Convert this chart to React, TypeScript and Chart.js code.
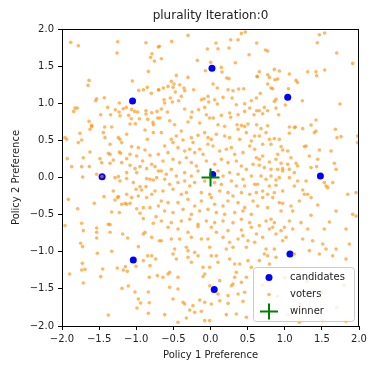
import React, { useEffect, useRef } from "react";
import { Chart, registerables } from "chart.js";

Chart.register(...registerables);

const titleText = "plurality Iteration:0";
const xLabel = "Policy 1 Preference";
const yLabel = "Policy 2 Preference";
const axisMin = -2;
const axisMax = 2;
const tickStep = 0.5;
const legendLabels = ["candidates", "voters", "winner"];

const candidateX = [0.02, -1.05, 1.04, -1.46, 1.48, -1.04, 1.07, 0.05, 0.03];
const candidateY = [1.47, 1.03, 1.08, 0.01, 0.02, -1.11, -1.03, -1.51, 0.04];

const winnerX = [0.0];
const winnerY = [0.0];

const voters: [number, number][] = [
  [-1.883, 1.82], [-1.78, 1.775], [-1.25, 1.829], [-1.259, 1.676], [-0.869, 1.815], [-0.702, 1.757],
  [-0.788, 1.667], [-0.806, 1.618], [-0.756, 1.568], [-0.837, 1.429], [-1.636, 1.308], [-1.65, 1.241],
  [-1.053, 1.299], [-1.533, 1.061], [-1.547, 1.034], [-1.43, 1.075], [-1.228, 1.003], [-0.904, 1.182],
  [-0.851, 1.214], [-0.797, 1.133], [-0.698, 1.178], [-0.967, 1.173], [-1.825, 0.935], [-1.843, 0.89],
  [-1.794, 0.935], [-1.385, 0.944], [-1.282, 0.913], [-1.232, 0.882], [-1.174, 0.926], [-1.134, 0.944],
  [-1.062, 0.917], [-1.021, 0.89], [-0.981, 0.882], [-0.869, 0.899], [-0.869, 0.855], [-0.792, 0.873],
  [-0.72, 0.89], [-1.479, 0.846], [-1.345, 0.846], [-1.219, 0.832], [-1.102, 0.837], [-1.066, 0.792],
  [-0.958, 0.792], [-0.846, 0.783], [-0.774, 0.742], [-0.711, 0.801], [-1.636, 0.756], [-1.6, 0.702],
  [-1.425, 0.68], [-1.331, 0.68], [-1.084, 0.72], [-1.012, 0.724], [-0.77, 0.711],
  [-0.303, 1.914], [-0.523, 1.833], [-0.689, 1.766], [-0.662, 1.6], [0.074, 1.811], [-0.042, 1.73],
  [0.101, 1.735], [0.249, 1.744], [0.272, 1.856], [0.371, 1.856], [0.416, 1.941], [0.469, 1.959],
  [0.519, 1.654], [0.622, 1.811], [-0.177, 1.577], [0.002, 1.551], [0.146, 1.483], [0.155, 1.42],
  [-0.069, 1.438], [0.335, 1.546], [0.631, 1.357], [-0.46, 1.375], [-0.303, 1.348], [0.218, 1.34],
  [0.249, 1.331], [-0.527, 1.295], [-0.491, 1.259], [-0.572, 1.227], [-0.505, 1.214], [-0.415, 1.25],
  [-0.357, 1.205], [-0.348, 1.169], [-0.227, 1.182], [0.034, 1.259], [0.092, 1.205], [0.236, 1.182],
  [0.303, 1.169], [0.38, 1.191], [0.447, 1.196], [-0.698, 1.182], [-0.635, 1.205], [-0.474, 1.151],
  [-0.393, 1.093], [-0.541, 1.07], [-0.626, 1.048], [-0.617, 1.003], [-0.662, 0.922], [-0.581, 0.882],
  [-0.514, 1.016], [-0.429, 1.034], [-0.123, 1.048], [-0.087, 1.061], [-0.033, 1.093], [-0.024, 1.016],
  [0.056, 1.048], [0.092, 0.989], [0.169, 1.079], [0.29, 1.07], [0.348, 0.98], [0.46, 0.994],
  [0.55, 1.034], [0.618, 1.07], [0.622, 0.9], [-0.348, 0.922], [-0.249, 0.882], [-0.262, 0.81],
  [-0.159, 0.913], [-0.078, 0.944], [-0.056, 0.846], [-0.011, 0.801], [0.038, 0.801], [0.146, 0.837],
  [0.272, 0.81], [0.258, 0.868], [0.371, 0.846], [0.46, 0.89], [0.528, 0.935], [0.586, 0.846],
  [-0.68, 0.801], [-0.55, 0.765], [-0.483, 0.711], [-0.303, 0.747], [-0.146, 0.733], [0.101, 0.711],
  [0.191, 0.689], [0.357, 0.711], [0.416, 0.702], [0.46, 0.689], [0.505, 0.72],
  [1.466, 1.923], [1.538, 1.946], [1.439, 1.815], [0.739, 1.717], [0.77, 1.703], [1.7, 1.676],
  [1.915, 1.537], [0.86, 1.456], [0.927, 1.434], [0.658, 1.425], [0.626, 1.362], [0.77, 1.384],
  [0.793, 1.348], [1.062, 1.393], [1.309, 1.425], [1.421, 1.425], [1.43, 1.371], [1.538, 1.447],
  [0.869, 1.317], [0.905, 1.326], [1.152, 1.308], [1.17, 1.281], [0.77, 1.259], [0.815, 1.205],
  [0.838, 1.196], [0.671, 1.133], [1.049, 1.196], [0.882, 1.052], [0.86, 1.025], [1.237, 1.034],
  [1.008, 0.976], [1.744, 0.989], [0.725, 0.944], [0.658, 0.899], [0.77, 0.899], [0.882, 0.935],
  [0.703, 0.859], [0.918, 0.846], [1.421, 0.774], [0.77, 0.697], [1.062, 0.68], [1.143, 0.68],
  [1.354, 0.706], [0.622, 0.711],
  [-1.96, 0.537], [-1.937, 0.514], [-1.758, 0.595], [-1.623, 0.649], [-1.6, 0.685], [-1.443, 0.604],
  [-1.421, 0.537], [-1.241, 0.537], [-1.219, 0.514], [-1.129, 0.582], [-0.882, 0.64], [-0.851, 0.514],
  [-0.77, 0.604], [-1.735, 0.505], [-1.78, 0.47], [-1.353, 0.447], [-1.196, 0.47], [-1.062, 0.416],
  [-0.972, 0.402], [-0.882, 0.371], [-1.623, 0.344], [-1.376, 0.326], [-1.353, 0.312], [-1.228, 0.344],
  [-1.21, 0.326], [-1.084, 0.312], [-0.994, 0.29], [-0.815, 0.299], [-0.702, 0.312], [-1.928, 0.254],
  [-1.713, 0.267], [-1.488, 0.254], [-1.309, 0.236], [-1.129, 0.254], [-0.914, 0.223], [-0.792, 0.178],
  [-1.87, 0.146], [-1.735, 0.146], [-1.632, 0.146], [-1.466, 0.2], [-1.353, 0.191], [-1.196, 0.2],
  [-1.084, 0.164], [-1.017, 0.119], [-0.949, 0.146], [-0.86, 0.119], [-0.747, 0.146], [-0.702, 0.088],
  [-1.129, 0.065], [-0.994, 0.065], [-1.533, 0.043], [-1.722, 0.007], [-1.286, -0.002], [-1.241, 0.012],
  [-1.219, -0.047], [-1.129, -0.015], [-1.039, -0.069], [-0.86, -0.015], [-0.815, -0.024], [-0.77, -0.033],
  [-0.725, -0.002], [-0.949, -0.123], [-0.869, -0.123], [-1.003, -0.159], [-0.927, -0.168], [-1.309, -0.182],
  [-1.241, -0.258], [-1.25, -0.271], [-1.129, -0.226], [-1.062, -0.271], [-0.972, -0.249], [-0.86, -0.271],
  [-0.792, -0.226], [-0.747, -0.182], [-1.434, -0.258], [-1.915, -0.294], [-1.565, -0.348], [-1.286, -0.303],
  [-1.196, -0.361], [-1.151, -0.348], [-1.129, -0.361], [-1.084, -0.348], [-0.994, -0.42], [-0.905, -0.406],
  [-0.815, -0.406], [-0.702, -0.384], [-1.789, -0.42], [-1.331, -0.464], [-1.228, -0.473], [-0.949, -0.482],
  [-0.734, -0.527], [-1.735, -0.617], [-1.376, -0.631], [-0.77, -0.617], [-0.905, -0.554], [-1.462, 0.014],
  [-0.662, 0.604], [-0.527, 0.514], [-0.505, 0.47], [-0.46, 0.559], [-0.393, 0.627], [-0.37, 0.505],
  [-0.258, 0.537], [-0.236, 0.47], [-0.168, 0.568], [-0.078, 0.604], [-0.034, 0.537], [0.011, 0.514],
  [0.034, 0.425], [0.079, 0.582], [0.191, 0.559], [0.258, 0.537], [0.371, 0.649], [0.393, 0.514],
  [0.483, 0.604], [0.55, 0.492], [0.595, 0.559], [-0.617, 0.425], [-0.572, 0.335], [-0.438, 0.402],
  [-0.348, 0.357], [-0.28, 0.38], [-0.213, 0.335], [-0.146, 0.38], [-0.101, 0.312], [-0.034, 0.447],
  [0.124, 0.357], [0.213, 0.38], [0.281, 0.402], [0.326, 0.312], [0.438, 0.335], [0.528, 0.425],
  [0.595, 0.38], [-0.64, 0.223], [-0.505, 0.245], [-0.415, 0.2], [-0.325, 0.267], [-0.258, 0.2],
  [-0.191, 0.155], [-0.056, 0.223], [0.056, 0.178], [0.146, 0.245], [0.236, 0.2], [0.348, 0.223],
  [0.416, 0.155], [0.483, 0.11], [0.573, 0.178], [0.618, 0.267], [-0.662, 0.088], [-0.595, 0.043],
  [-0.527, 0.11], [-0.46, 0.02], [-0.348, 0.065], [-0.258, 0.02], [-0.168, 0.088], [0.101, 0.088],
  [0.169, 0.02], [0.258, 0.065], [0.371, 0.043], [0.438, -0.024], [0.55, 0.02], [-0.617, -0.024],
  [-0.55, -0.092], [-0.438, -0.069], [-0.348, -0.047], [-0.28, -0.114], [-0.213, -0.069], [-0.078, -0.047],
  [0.056, -0.069], [0.146, -0.092], [0.281, -0.047], [0.348, -0.114], [0.46, -0.114], [0.595, -0.092],
  [-0.64, -0.182], [-0.505, -0.159], [-0.393, -0.226], [-0.325, -0.204], [-0.123, -0.204], [-0.011, -0.226],
  [0.011, -0.271], [0.124, -0.182], [0.236, -0.204], [0.303, -0.249], [0.416, -0.204], [0.528, -0.226],
  [0.618, -0.204], [-0.662, -0.316], [-0.572, -0.339], [-0.438, -0.339], [-0.303, -0.294], [-0.213, -0.384],
  [-0.123, -0.316], [0.056, -0.361], [0.169, -0.384], [0.236, -0.316], [0.371, -0.339], [0.46, -0.406],
  [0.573, -0.316], [-0.617, -0.451], [-0.505, -0.473], [-0.37, -0.429], [-0.258, -0.496], [-0.146, -0.451],
  [-0.034, -0.429], [0.079, -0.473], [0.191, -0.496], [0.326, -0.473], [0.438, -0.451], [0.55, -0.496],
  [-0.662, -0.586], [-0.527, -0.608], [-0.393, -0.586], [-0.28, -0.563], [-0.168, -0.631], [-0.056, -0.586],
  [0.056, -0.608], [0.169, -0.586], [0.303, -0.608], [0.416, -0.563], [0.528, -0.608],
  [0.68, 0.658], [0.748, 0.604], [0.658, 0.559], [0.793, 0.514], [0.86, 0.523], [0.927, 0.514],
  [1.062, 0.595], [1.129, 0.672], [1.242, 0.658], [1.399, 0.604], [1.421, 0.627], [1.682, 0.649],
  [1.704, 0.537], [1.758, 0.55], [1.982, 0.559], [1.982, 0.47], [0.703, 0.447], [0.815, 0.447],
  [0.95, 0.416], [0.972, 0.371], [0.905, 0.312], [1.04, 0.357], [1.084, 0.267], [1.264, 0.416],
  [1.287, 0.425], [1.466, 0.371], [1.623, 0.357], [0.703, 0.29], [0.658, 0.245], [0.793, 0.209],
  [0.882, 0.245], [0.95, 0.191], [0.972, 0.119], [1.04, 0.178], [1.152, 0.191], [1.331, 0.29],
  [1.444, 0.245], [0.658, 0.164], [0.725, 0.133], [0.815, 0.11], [0.905, 0.11], [0.972, 0.088],
  [1.062, 0.11], [1.129, 0.065], [1.174, 0.155], [1.354, 0.133], [1.43, 0.146], [1.691, 0.11],
  [1.668, 0.191], [0.68, 0.02], [0.748, -0.024], [0.815, 0.02], [0.882, -0.033], [0.927, -0.002],
  [1.062, -0.002], [1.174, -0.047], [1.287, -0.047], [1.533, -0.069], [1.556, -0.114], [1.578, -0.137],
  [1.646, -0.069], [0.635, -0.092], [0.793, -0.114], [0.882, -0.105], [0.703, -0.182], [0.77, -0.226],
  [0.86, -0.204], [0.972, -0.182], [1.129, -0.114], [1.242, -0.168], [1.264, -0.226], [1.309, -0.226],
  [1.354, -0.271], [1.848, -0.226], [1.96, -0.204], [0.703, -0.271], [0.838, -0.271], [0.927, -0.339],
  [0.972, -0.348], [1.084, -0.384], [1.197, -0.316], [1.444, -0.37], [0.635, -0.384], [0.77, -0.406],
  [0.95, -0.451], [1.107, -0.451], [1.354, -0.509], [1.691, -0.451], [1.915, -0.496], [1.96, -0.518],
  [0.748, -0.586], [0.815, -0.563], [0.86, -0.608], [1.062, -0.586], [1.219, -0.608], [1.601, -0.599],
  [-1.96, -0.648], [-1.713, -0.716], [-1.533, -0.68], [-1.533, -0.738], [-1.533, -0.815], [-1.353, -0.738],
  [-1.353, -0.635], [-1.183, -0.761], [-1.116, -0.815], [-0.905, -0.761], [-0.882, -0.738], [-0.792, -0.806],
  [-0.689, -0.851], [-1.749, -0.886], [-1.722, -0.931], [-0.972, -0.931], [-1.331, -0.994], [-1.524, -1.021],
  [-0.792, -1.053], [-0.738, -1.097], [-0.846, -1.053], [-0.905, -1.12], [-1.003, -1.196], [-1.147, -1.201],
  [-1.255, -1.219], [-1.174, -1.246], [-1.12, -1.264], [-0.815, -1.187], [-1.726, -1.156], [-1.69, -1.237],
  [-1.735, -1.246], [-1.452, -1.232], [-1.897, -1.3], [-1.479, -1.335], [-0.824, -1.344], [-0.716, -1.322],
  [-1.713, -1.421], [-1.107, -1.461], [-1.192, -1.493], [-1.017, -1.542], [-0.837, -1.542], [-0.972, -1.636],
  [-0.94, -1.69], [-0.824, -1.686], [-0.99, -1.757], [-0.837, -1.829], [-1.376, -1.852],
  [-0.572, -0.671], [-0.438, -0.693], [-0.303, -0.738], [-0.168, -0.662], [0.011, -0.671], [0.079, -0.738],
  [0.236, -0.716], [0.416, -0.707], [0.438, -0.783], [0.55, -0.671], [0.618, -0.761], [-0.662, -0.851],
  [-0.527, -0.828], [-0.415, -0.828], [-0.258, -0.806], [-0.123, -0.828], [-0.034, -0.828], [0.169, -0.806],
  [0.258, -0.873], [0.371, -0.828], [0.505, -0.851], [0.595, -0.873], [-0.483, -0.963], [-0.325, -0.94],
  [-0.303, -0.985], [-0.213, -1.008], [-0.011, -0.94], [0.213, -0.963], [0.303, -0.94], [0.483, -0.94],
  [-0.505, -1.03], [-0.46, -1.097], [-0.303, -1.075], [-0.258, -1.142], [-0.168, -1.053], [0.011, -1.053],
  [0.079, -1.053], [0.101, -1.142], [0.258, -1.097], [0.326, -1.165], [0.393, -1.165], [0.505, -1.12],
  [0.55, -1.21], [-0.101, -1.21], [-0.011, -1.21], [-0.078, -1.3], [-0.101, -1.335], [-0.55, -1.277],
  [-0.572, -1.3], [-0.64, -1.344], [-0.438, -1.344], [0.348, -1.277], [0.483, -1.344], [0.326, -1.344],
  [0.416, -1.412], [0.124, -1.389], [-0.011, -1.457], [0.281, -1.457], [0.303, -1.434], [0.101, -1.569],
  [0.236, -1.591], [0.371, -1.569], [0.46, -1.546], [-0.55, -1.479], [-0.438, -1.502], [-0.505, -1.636],
  [-0.37, -1.681], [-0.348, -1.704], [-0.236, -1.726], [-0.146, -1.65], [-0.078, -1.681], [0.011, -1.704],
  [0.124, -1.659], [0.236, -1.695], [0.438, -1.668], [-0.213, -1.816], [-0.28, -1.784], [-0.123, -1.802],
  [-0.617, -1.847], [0.213, -1.847], [0.348, -1.838], [0.483, -1.883], [-0.325, -1.892], [-0.078, -1.928],
  [-0.011, -1.928], [-0.438, -1.95],
  [0.658, -0.648], [0.793, -0.693], [0.838, -0.671], [0.95, -0.716], [0.995, -0.671], [1.107, -0.693],
  [1.309, -0.693], [1.533, -0.693], [1.825, -0.693], [0.703, -0.806], [0.882, -0.761], [1.017, -0.806],
  [0.972, -0.851], [1.242, -0.828], [1.376, -0.851], [1.511, -0.895], [1.556, -0.963], [1.691, -0.963],
  [1.87, -0.895], [0.748, -0.963], [0.86, -0.963], [0.725, -1.03], [0.882, -1.075], [1.129, -1.03],
  [1.331, -0.985], [1.466, -1.03], [1.646, -1.053], [1.825, -1.097], [0.658, -1.12], [0.793, -1.165],
  [0.77, -1.053], [1.197, -1.95], [1.511, -1.928], [1.825, -1.937],
  [1.0, -1.35], [1.3, -1.4], [1.6, -1.3], [0.9, -1.6], [1.2, -1.7], [1.5, -1.55], [1.8, -1.45],
  [0.7, -1.45], [1.05, -1.85], [1.7, -1.75],
];

const fontFamily = '"DejaVu Sans", sans-serif';
const textColor = "#222222";
const voterColor = "rgba(255,140,0,0.62)";
const candidateColor = "#0000ff";
const winnerColor = "#008000";

function fmt(v: number): string {
  const s = Math.abs(v).toFixed(1);
  return v < 0 ? "\u2212" + s : s;
}

const decorPlugin = {
  id: "decor",
  afterDatasetsDraw(chart: any) {
    const { ctx, chartArea: a } = chart;
    ctx.save();
    const w = 101;
    const h = 54;
    const x0 = a.right - 5 - w;
    const y0 = a.bottom - 5 - h;
    ctx.beginPath();
    if ((ctx as any).roundRect) {
      (ctx as any).roundRect(x0 + 0.5, y0 + 0.5, w, h, 3);
    } else {
      ctx.rect(x0 + 0.5, y0 + 0.5, w, h);
    }
    ctx.fillStyle = "rgba(255,255,255,0.8)";
    ctx.fill();
    ctx.strokeStyle = "#cccccc";
    ctx.lineWidth = 1;
    ctx.stroke();
    const mx = x0 + 16;
    const rows = [y0 + 10.5, y0 + 27.5, y0 + 44.5];
    ctx.beginPath();
    ctx.arc(mx, rows[0], 3.5, 0, Math.PI * 2);
    ctx.fillStyle = candidateColor;
    ctx.fill();
    ctx.beginPath();
    ctx.arc(mx, rows[1], 1.8, 0, Math.PI * 2);
    ctx.fillStyle = voterColor;
    ctx.fill();
    ctx.beginPath();
    ctx.moveTo(mx - 9, rows[2]);
    ctx.lineTo(mx + 9, rows[2]);
    ctx.moveTo(mx, rows[2] - 8);
    ctx.lineTo(mx, rows[2] + 8);
    ctx.strokeStyle = winnerColor;
    ctx.lineWidth = 2;
    ctx.stroke();
    ctx.fillStyle = textColor;
    ctx.font = `10px ${fontFamily}`;
    ctx.textBaseline = "middle";
    ctx.textAlign = "left";
    legendLabels.forEach((t, i) => ctx.fillText(t, x0 + 37, rows[i]));
    ctx.restore();
  },
  afterDraw(chart: any) {
    const { ctx, chartArea: a } = chart;
    ctx.save();
    ctx.strokeStyle = "#000000";
    ctx.lineWidth = 1;
    ctx.strokeRect(Math.round(a.left) + 0.5, Math.round(a.top) + 0.5, Math.round(a.right - a.left) - 1, Math.round(a.bottom - a.top));
    ctx.fillStyle = textColor;
    ctx.font = `12px ${fontFamily}`;
    ctx.textAlign = "center";
    ctx.textBaseline = "middle";
    ctx.fillText(titleText, (a.left + a.right) / 2, 16);
    ctx.restore();
  },
};

export default function App() {
  const ref = useRef<HTMLCanvasElement | null>(null);
  useEffect(() => {
    document.body.style.margin = "0";
    if (!ref.current) return;
    const chart = new Chart(ref.current, {
      type: "scatter",
      data: {
        datasets: [
          {
            label: legendLabels[2],
            data: winnerX.map((x, i) => ({ x, y: winnerY[i] })),
            pointStyle: "cross",
            pointRadius: 9,
            borderColor: winnerColor,
            borderWidth: 2,
            backgroundColor: winnerColor,
            order: 0,
          },
          {
            label: legendLabels[1],
            data: voters.map(([x, y]) => ({ x, y })),
            pointRadius: 1.8,
            borderWidth: 0,
            backgroundColor: voterColor,
            clip: 0,
            order: 1,
          },
          {
            label: legendLabels[0],
            data: candidateX.map((x, i) => ({ x, y: candidateY[i] })),
            pointRadius: 3.5,
            borderWidth: 0,
            backgroundColor: candidateColor,
            order: 2,
          },
        ],
      },
      options: {
        responsive: false,
        animation: false,
        devicePixelRatio: 1,
        events: [],
        layout: { padding: { top: 29, right: 11, left: 0, bottom: 0 } },
        plugins: {
          legend: { display: false },
          tooltip: { enabled: false },
          title: { display: false },
        },
        scales: {
          x: {
            type: "linear",
            min: axisMin,
            max: axisMax,
            afterFit: (s: any) => {
              s.height = 41;
            },
            ticks: {
              stepSize: tickStep,
              callback: (v: any) => fmt(Number(v)),
              color: textColor,
              font: { family: fontFamily, size: 10 },
              padding: 3,
              maxRotation: 0,
            },
            grid: { drawOnChartArea: false, drawTicks: true, tickLength: 4, tickColor: "#000000" },
            border: { display: true, color: "#000000" },
            title: {
              display: true,
              text: xLabel,
              color: textColor,
              font: { family: fontFamily, size: 10 },
              padding: { top: 4, bottom: 6 },
            },
          },
          y: {
            type: "linear",
            min: axisMin,
            max: axisMax,
            afterFit: (s: any) => {
              s.width = 62;
            },
            ticks: {
              stepSize: tickStep,
              callback: (v: any) => fmt(Number(v)),
              color: textColor,
              font: { family: fontFamily, size: 10 },
              padding: 4,
            },
            grid: { drawOnChartArea: false, drawTicks: true, tickLength: 4, tickColor: "#000000" },
            border: { display: true, color: "#000000" },
            title: {
              display: true,
              text: yLabel,
              color: textColor,
              font: { family: fontFamily, size: 10 },
              padding: { top: 10, bottom: 4 },
            },
          },
        },
      },
      plugins: [decorPlugin],
    } as any);
    return () => chart.destroy();
  }, []);
  return <canvas ref={ref} width={370} height={367} style={{ display: "block", width: 370, height: 367 }} />;
}
